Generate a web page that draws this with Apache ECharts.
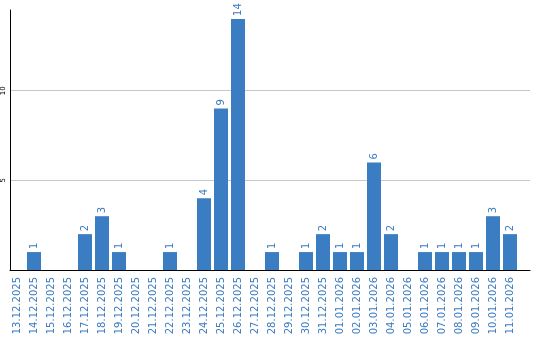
<!DOCTYPE html>
<html><head><meta charset="utf-8">
<script src="https://cdn.jsdelivr.net/npm/echarts@6/dist/echarts.min.js"></script>
<style>html,body{margin:0;padding:0;background:#fff}#c{width:540px;height:340px}</style>
</head><body><div id="c"></div>
<script>
const categories = ['13.12.2025','14.12.2025','15.12.2025','16.12.2025','17.12.2025','18.12.2025','19.12.2025','20.12.2025','21.12.2025','22.12.2025','23.12.2025','24.12.2025','25.12.2025','26.12.2025','27.12.2025','28.12.2025','29.12.2025','30.12.2025','31.12.2025','01.01.2026','02.01.2026','03.01.2026','04.01.2026','05.01.2026','06.01.2026','07.01.2026','08.01.2026','09.01.2026','10.01.2026','11.01.2026'];
const values = [0,1,0,0,2,3,1,0,0,1,0,4,9,14,0,1,0,1,2,1,1,6,2,0,1,1,1,1,3,2];
const yTicks = [5,10];

const chart = echarts.init(document.getElementById('c'), null, {renderer:'canvas'});
const YMAX = 14.5;
chart.setOption({
  animation:false,
  textStyle:{fontFamily:'DejaVu Sans'},
  grid:[
    {left:8.5, width:510, top:10, height:260},
    {left:10, right:10, top:10, height:260}
  ],
  xAxis:[
    {type:'category', gridIndex:0, data:categories,
     axisLine:{show:false}, axisTick:{show:false},
     axisLabel:{rotate:90, interval:0, color:'#3b7bbf', fontSize:10, fontFamily:'DejaVu Sans', margin:7}},
    {type:'value', gridIndex:1, min:0, max:1,
     axisLine:{show:true, onZero:false, lineStyle:{color:'#000', width:1}},
     axisTick:{show:false}, axisLabel:{show:false}, splitLine:{show:false}}
  ],
  yAxis:[
    {type:'value', gridIndex:0, min:0, max:YMAX, show:false},
    {type:'value', gridIndex:1, min:0, max:YMAX, interval:5,
     axisLine:{show:true, lineStyle:{color:'#000', width:1}},
     axisTick:{show:false},
     axisLabel:{rotate:90, fontSize:7, color:'#000', margin:3,
       formatter:v => yTicks.includes(v) ? String(v) : ''},
     splitLine:{show:true, showMinLine:false, showMaxLine:false, lineStyle:{color:'#c8c8c8', width:1}}}
  ],
  series:[{
    type:'bar', xAxisIndex:0, yAxisIndex:0,
    data:values.map(v => v === 0 ? null : v),
    barWidth:14,
    itemStyle:{color:'#3a7dc3'},
    label:{show:true, position:'top', rotate:90, align:'left', verticalAlign:'middle',
      distance:3, color:'#3b7bbf', fontSize:10, fontFamily:'DejaVu Sans'}
  }]
});
</script></body></html>
